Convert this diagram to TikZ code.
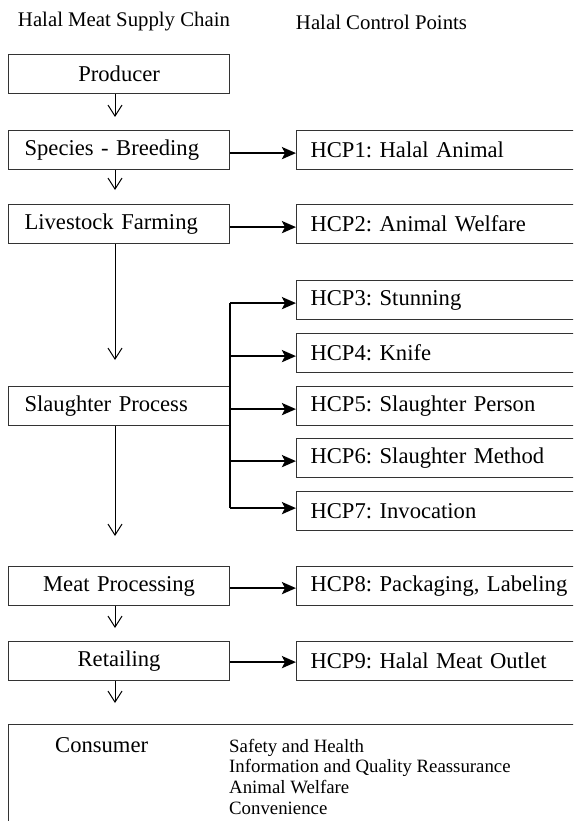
\documentclass[tikz,border=0pt]{standalone}
\usepackage{fontspec}
\setmainfont{Liberation Serif}
\usetikzlibrary{arrows.meta}
\frenchspacing

\begin{document}
\begin{tikzpicture}[x=1pt, y=-1pt,
  chainbox/.style={draw=black!80, line width=1.2pt, rectangle, anchor=north west,
    minimum height=39pt, inner ysep=0pt, inner xsep=0pt, text width=221pt, align=center,
    font=\fontsize{22.6}{26}\selectfont},
  leftbox/.style={chainbox, inner xsep=16pt, text width=189pt, align=left},
  hcpbox/.style={chainbox, inner xsep=14pt, text width=276pt, align=left},
  heading/.style={font=\fontsize{20.8}{24}\selectfont, inner sep=0pt},
  flowarrow/.style={line width=1pt, -{Straight Barb[length=11pt,width=14pt]}},
  hcparrow/.style={line width=2.5pt, -{Stealth[length=14pt,width=12pt,inset=3pt]}},
  busline/.style={line width=2.5pt}]
% Fix the size of the picture
\useasboundingbox (0,0) rectangle (573,821);
\clip (0,0) rectangle (573,821);

% Column headings
\node[heading] (headchain) at (124,22) {Halal Meat Supply Chain};
\node[heading] (headhcp) at (381.5,22) {Halal Control Points};

% Supply chain boxes
\node[chainbox] (prod) at (8,54) {Producer};
\node[leftbox] (spec) at (8,130) {Species - Breeding};
\node[leftbox] (live) at (8,204) {Livestock Farming};
\node[leftbox] (slau) at (8,386) {Slaughter Process};
\node[chainbox] (meat) at (8,566) {Meat Processing};
\node[chainbox] (reta) at (8,641) {Retailing};
\node[draw=black!80, line width=1.2pt, anchor=north west, minimum width=620pt,
  minimum height=140pt] (cons) at (8,724) {};
\coordinate (col) at (115,0);

% Halal control points
\node[hcpbox] (hcp1) at (296,130) {HCP1: Halal Animal};
\node[hcpbox] (hcp2) at (296,204) {HCP2: Animal Welfare};
\node[hcpbox] (hcp3) at (296,280) {HCP3: Stunning};
\node[hcpbox] (hcp4) at (296,333) {HCP4: Knife};
\node[hcpbox] (hcp5) at (296,386) {HCP5: Slaughter Person};
\node[hcpbox] (hcp6) at (296,438) {HCP6: Slaughter Method};
\node[hcpbox] (hcp7) at (296,491) {HCP7: Invocation};
\node[hcpbox] (hcp8) at (296,566) {HCP8: Packaging, Labeling};
\node[hcpbox] (hcp9) at (296,641) {HCP9: Halal Meat Outlet};

% Consumer texts
\node[anchor=base west, inner sep=0pt, font=\fontsize{22.6}{26}\selectfont] (constext) at (55,752) {Consumer};
\node[anchor=base west, inner sep=0pt, align=left, font=\fontsize{18.8}{20.7}\selectfont] (needs) at (229,814.1)
  {Safety and Health\\Information and Quality Reassurance\\Animal Welfare\\Convenience};

% Arrows down the chain
\draw[flowarrow, shorten >=13pt] (prod.south -| col) -- (spec.north -| col);
\draw[flowarrow, shorten >=14pt] (spec.south -| col) -- (live.north -| col);
\draw[flowarrow, shorten >=26pt] (live.south -| col) -- (slau.north -| col);
\draw[flowarrow, shorten >=30pt] (slau.south -| col) -- (meat.north -| col);
\draw[flowarrow, shorten >=13pt] (meat.south -| col) -- (reta.north -| col);
\draw[flowarrow, shorten >=21pt] (reta.south -| col) -- (cons.north -| col);

% Arrows to the control points
\draw[hcparrow] ([yshift=-3pt]spec.east) -- ([yshift=-3pt]hcp1.west);
\draw[hcparrow] ([yshift=-3pt]live.east) -- ([yshift=-3pt]hcp2.west);
\draw[busline] ([yshift=-3pt]hcp3.west -| slau.east) -- ([yshift=3pt]hcp7.west -| slau.east);
\draw[hcparrow] ([yshift=-3pt]hcp3.west -| slau.east) -- ([yshift=-3pt]hcp3.west);
\draw[hcparrow] ([yshift=-3pt]hcp4.west -| slau.east) -- ([yshift=-3pt]hcp4.west);
\draw[hcparrow] ([yshift=-3pt]hcp5.west -| slau.east) -- ([yshift=-3pt]hcp5.west);
\draw[hcparrow] ([yshift=-3pt]hcp6.west -| slau.east) -- ([yshift=-3pt]hcp6.west);
\draw[hcparrow] ([yshift=3pt]hcp7.west -| slau.east) -- ([yshift=3pt]hcp7.west);
\draw[hcparrow] ([yshift=-2pt]meat.east) -- ([yshift=-2pt]hcp8.west);
\draw[hcparrow] ([yshift=-1pt]reta.east) -- ([yshift=-1pt]hcp9.west);
\end{tikzpicture}
\end{document}
